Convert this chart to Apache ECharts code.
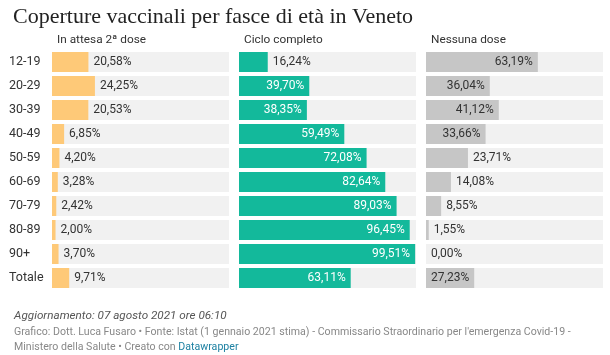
<!DOCTYPE html>
<html><head><meta charset="utf-8">
<script src="https://cdn.jsdelivr.net/npm/echarts@6/dist/echarts.min.js"></script>
<style>html,body{margin:0;padding:0;background:#fff}#c{width:610px;height:355px}</style>
</head><body><div id="c"></div>
<script>
const categories = ['12-19','20-29','30-39','40-49','50-59','60-69','70-79','80-89','90+','Totale'];
const inAttesa = [20.58,24.25,20.53,6.85,4.20,3.28,2.42,2.00,3.70,9.71];
const cicloCompleto = [16.24,39.70,38.35,59.49,72.08,82.64,89.03,96.45,99.51,63.11];
const nessunaDose = [63.19,36.04,41.12,33.66,23.71,14.08,8.55,1.55,0.00,27.23];
const headers = ['In attesa 2ª dose','Ciclo completo','Nessuna dose'];

const panelLeft = [52, 239, 426];
const panelW = 177;
const fmt = v => v.toFixed(2).replace('.', ',') + '%';

function items(vals, insideMin, insideColor) {
  return vals.map(v => {
    const inside = insideMin !== null && v >= insideMin;
    return {
      value: v,
      label: {
        show: true,
        position: inside ? 'insideRight' : 'right',
        distance: 5,
        color: inside ? insideColor : '#333',
        fontSize: 12,
        fontFamily: 'Roboto',
        formatter: p => fmt(p.value)
      }
    };
  });
}

const grids = panelLeft.map(l => ({left: l, width: panelW, top: 50, height: 240}));
const xAxes = panelLeft.map((l, i) => ({gridIndex: i, type: 'value', min: 0, max: 100, show: false}));
const yAxes = panelLeft.map((l, i) => ({
  gridIndex: i, type: 'category', data: categories, inverse: true,
  axisLine: {show: false}, axisTick: {show: false}, splitLine: {show: false},
  axisLabel: i === 0 ? {show: true, align: 'left', margin: 43, color: '#333', fontSize: 12.5, fontFamily: 'Roboto'} : {show: false}
}));
const colors = ['#fec978', '#13b99b', '#c6c6c6'];
const seriesData = [items(inAttesa, null, '#333'), items(cicloCompleto, 30, '#fff'), items(nessunaDose, 27, '#333')];
const series = seriesData.map((d, i) => ({
  type: 'bar', xAxisIndex: i, yAxisIndex: i, data: d, barWidth: 20,
  itemStyle: {color: colors[i]},
  showBackground: true, backgroundStyle: {color: '#f1f1f1'},
  silent: true, animation: false
}));

const titles = [
  {text: 'Coperture vaccinali per fasce di età in Veneto', left: 8, top: 1,
   textStyle: {fontFamily: 'Liberation Serif', fontSize: 22, fontWeight: 'normal', color: '#222'}}
].concat(headers.map((h, i) => ({
  text: h, left: panelLeft[i], top: 29,
  textStyle: {fontFamily: 'Roboto', fontSize: 11.8, fontWeight: 'normal', color: '#333'}
}))).concat([
  {text: 'Aggiornamento: 07 agosto 2021 ore 06:10', left: 9, top: 305,
   textStyle: {fontFamily: 'Roboto', fontSize: 11.7, fontStyle: 'italic', fontWeight: 'normal', color: '#555'}},
  {text: "Grafico: Dott. Luca Fusaro • Fonte: Istat (1 gennaio 2021 stima) - Commissario Straordinario per l'emergenza Covid-19 -", left: 9, top: 322,
   textStyle: {fontFamily: 'Roboto', fontSize: 10.6, fontWeight: 'normal', color: '#888'}},
  {text: 'Ministero della Salute • Creato con {a|Datawrapper}', left: 9, top: 337,
   textStyle: {fontFamily: 'Roboto', fontSize: 10.6, fontWeight: 'normal', color: '#888',
     rich: {a: {fontFamily: 'Roboto', fontSize: 10.6, color: '#1d81a2'}}}}
]);

const chart = echarts.init(document.getElementById('c'), null, {renderer: 'canvas'});
chart.setOption({
  backgroundColor: '#fff',
  animation: false,
  title: titles,
  grid: grids, xAxis: xAxes, yAxis: yAxes, series: series
});
</script></body></html>
